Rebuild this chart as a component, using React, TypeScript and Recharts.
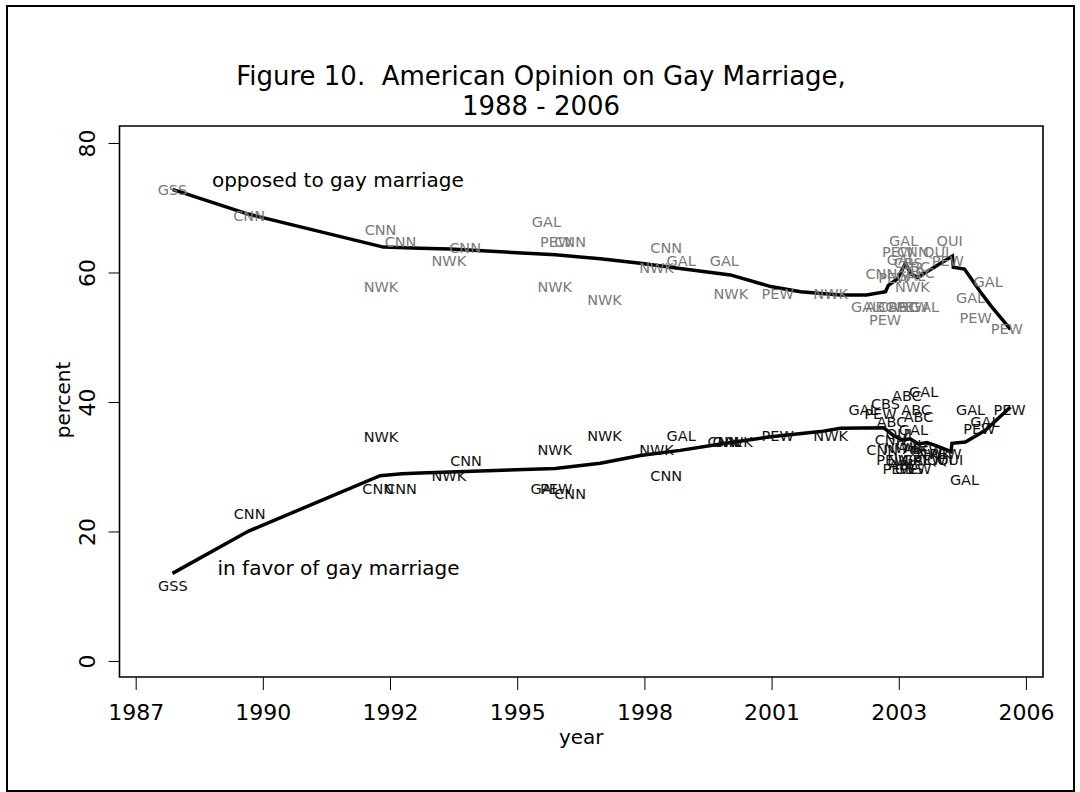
import { ComposedChart, Line, Scatter, XAxis, YAxis, ReferenceArea } from "recharts";

// x values are decimal years, y values are percent
const tickYears = [1987.379, 1990.116, 1992.854, 1995.592, 1998.33, 2001.068, 2003.806, 2006.543];
const tickLabels = ["1987", "1990", "1992", "1995", "1998", "2001", "2003", "2006"];
const percentTicks = [0, 20, 40, 60, 80];

// smoothed trend lines
const opposedTrend = [
  [1988.16, 72.9], [1989.79, 69.1], [1992.7, 64.0], [1993.49, 63.8], [1994.14, 63.7],
  [1996.4, 62.8], [1997.37, 62.2], [1998.23, 61.5], [1999.09, 60.7], [2000.17, 59.7],
  [2001.04, 57.9], [2001.68, 57.1], [2002.54, 56.6], [2003.1, 56.6], [2003.51, 57.1],
  [2003.57, 58.1], [2003.77, 59.1], [2003.94, 61.5], [2004.05, 59.9], [2004.2, 59.3],
  [2004.38, 60.1], [2004.56, 60.9], [2004.74, 61.7], [2004.95, 62.6], [2004.97, 60.9],
  [2005.21, 60.6], [2005.55, 57.1], [2005.77, 55.0], [2006.2, 51.3],
];

const favorTrend = [
  [1988.16, 13.6], [1989.79, 20.1], [1992.63, 28.7], [1993.1, 29.0], [1993.49, 29.1],
  [1996.4, 29.8], [1997.37, 30.6], [1998.23, 31.8], [1999.09, 32.6], [1999.96, 33.6],
  [2001.04, 34.7], [2002.11, 35.5], [2002.54, 36.0], [2003.47, 36.1], [2003.68, 34.9],
  [2003.87, 34.2], [2004.04, 34.4], [2004.22, 33.6], [2004.4, 33.8], [2004.61, 33.3],
  [2004.92, 32.4], [2004.94, 33.7], [2005.23, 33.9], [2005.66, 35.7], [2006.2, 39.3],
];

// individual polls: [source, year, percent]
const opposedPolls = [
  ["GSS", 1988.16, 72.8], ["CNN", 1989.81, 68.8], ["CNN", 1992.64, 66.7], ["CNN", 1993.07, 64.8],
  ["NWK", 1992.65, 57.8], ["NWK", 1994.11, 61.8], ["CNN", 1994.46, 63.9], ["GAL", 1996.21, 67.8],
  ["PEW", 1996.42, 64.8], ["CNN", 1996.72, 64.8], ["NWK", 1996.39, 57.8], ["NWK", 1997.46, 55.8],
  ["CNN", 1998.79, 63.8], ["NWK", 1998.58, 60.8], ["GAL", 1999.11, 61.8], ["GAL", 2000.04, 61.8],
  ["NWK", 2000.18, 56.8], ["PEW", 2001.19, 56.8], ["NWK", 2002.33, 56.8],
  ["GAL", 2003.9, 64.9], ["QUI", 2004.89, 64.9], ["PEW", 2003.78, 63.2], ["QUI", 2004.6, 63.2],
  ["CNN", 2004.1, 63.2], ["GAL", 2003.85, 62.0], ["CBS", 2004.0, 61.6], ["ABC", 2004.15, 61.0],
  ["PEW", 2004.85, 61.9], ["CNN", 2003.42, 59.8], ["PEW", 2003.7, 59.3], ["GAL", 2004.05, 59.6],
  ["ABC", 2004.25, 60.0], ["NWK", 2004.09, 57.8],
  ["GAL", 2003.08, 54.8], ["ABC", 2003.4, 54.8], ["CBS", 2003.66, 54.8], ["ABC", 2003.9, 54.8],
  ["PEW", 2004.09, 54.8], ["GAL", 2004.35, 54.8], ["PEW", 2003.5, 52.8],
  ["GAL", 2005.72, 58.6], ["GAL", 2005.34, 56.1], ["PEW", 2005.45, 53.1], ["PEW", 2006.12, 51.3],
];

const favorPolls = [
  ["GSS", 1988.17, 11.6], ["CNN", 1989.82, 22.8], ["NWK", 1992.65, 34.7], ["CNN", 1992.59, 26.7],
  ["CNN", 1993.08, 26.7], ["CNN", 1994.48, 30.9], ["NWK", 1994.11, 28.6], ["NWK", 1996.39, 32.7],
  ["NWK", 1997.46, 34.8], ["GAL", 1999.11, 34.8], ["NWK", 1998.58, 32.7], ["CNN", 1998.79, 28.7],
  ["GAL", 1996.18, 26.7], ["PEW", 1996.42, 26.7], ["CNN", 1996.72, 25.8], ["CNN", 2000.02, 33.9],
  ["GAL", 2000.1, 33.9], ["NWK", 2000.28, 33.9], ["PEW", 2001.19, 34.8], ["NWK", 2002.33, 34.8],
  ["GAL", 2003.03, 38.8], ["CBS", 2003.51, 39.8], ["ABC", 2003.97, 41.0], ["GAL", 2004.33, 41.6],
  ["PEW", 2003.4, 38.2], ["ABC", 2004.17, 38.8], ["ABC", 2003.64, 37.0], ["ABC", 2004.22, 37.8],
  ["GAL", 2004.11, 35.7], ["QUI", 2003.8, 35.2], ["CNN", 2003.62, 34.2], ["CNN", 2003.44, 32.6],
  ["NWK", 2003.85, 33.0], ["GAL", 2004.05, 33.5], ["ABC", 2004.2, 32.8], ["PEW", 2004.4, 32.5],
  ["PEW", 2004.8, 32.1], ["NWK", 2004.55, 32.1], ["PEW", 2003.66, 31.1], ["NWK", 2003.92, 31.1],
  ["GAL", 2004.18, 31.1], ["PEW", 2004.46, 31.1], ["QUI", 2004.68, 31.1], ["QUI", 2004.9, 31.1],
  ["PEW", 2003.79, 29.7], ["CBS", 2004.02, 29.8], ["ABC", 2003.9, 30.3], ["PEW", 2004.15, 29.7],
  ["GAL", 2005.21, 28.0], ["GAL", 2005.34, 38.8], ["PEW", 2005.53, 35.9], ["GAL", 2005.65, 37.0],
  ["PEW", 2006.18, 38.9],
];

const annotations = [
  ["opposed to gay marriage", 1989.01, 74.3],
  ["in favor of gay marriage", 1989.13, 14.4],
];

const FONT = "'DejaVu Sans', sans-serif";

const toPoints = (rows: any[]) => rows.map(([x, y]) => ({ x, y }));
const toLabels = (rows: any[]) => rows.map(([src, x, y]) => ({ x, y, src }));

const pollLabel = (color: string) => (props: any) => (
  <text
    x={props.cx}
    y={props.cy}
    textAnchor="middle"
    dominantBaseline="central"
    fill={color}
    fontSize={14.5}
    fontFamily={FONT}
  >
    {props.payload.src}
  </text>
);

const annotationLabel = (props: any) => (
  <text x={props.cx} y={props.cy} dominantBaseline="central" fill="#000" fontSize={20} fontFamily={FONT}>
    {props.payload.src}
  </text>
);

const XTick = ({ x, y, payload, index }: any) => (
  <text x={x} y={y + 20} textAnchor="middle" dominantBaseline="central" fontSize={22} fontFamily={FONT} fill="#000">
    {tickLabels[index] ?? payload.value}
  </text>
);

const YTick = ({ y, payload }: any) => (
  <text
    x={88}
    y={y}
    transform={`rotate(-90, 88, ${y})`}
    textAnchor="middle"
    dominantBaseline="central"
    fontSize={22}
    fontFamily={FONT}
    fill="#000"
  >
    {payload.value}
  </text>
);

export default function App() {
  const xDomain = [1987.02, 2006.9];
  const yDomain = [-2.4, 82.7];

  return (
    <div style={{ position: "absolute", left: 0, top: 0, width: 1080, height: 792, background: "#fff" }}>
      <div
        style={{
          position: "absolute",
          left: 6,
          top: 5,
          width: 1065,
          height: 783,
          border: "2px solid #000",
        }}
      />
      <div
        style={{
          position: "absolute",
          left: 0,
          width: 1082,
          top: 61,
          textAlign: "center",
          fontFamily: FONT,
          fontSize: 26,
          lineHeight: "30px",
          color: "#000",
        }}
      >
        <div>Figure 10.&nbsp; American Opinion on Gay Marriage,</div>
        <div>1988 - 2006</div>
      </div>
      <div style={{ position: "absolute", left: 0, top: 0 }}>
        <ComposedChart width={1080} height={792} margin={{ top: 126, right: 37, left: 0, bottom: 0 }}>
          <XAxis
            type="number"
            dataKey="x"
            domain={xDomain}
            ticks={tickYears}
            interval={0}
            allowDataOverflow
            height={115}
            tickSize={13}
            tickLine={{ stroke: "#000", strokeWidth: 1 }}
            axisLine={false}
            tick={<XTick />}
            label={{ value: "year", position: "insideTop", dy: 48, fontSize: 20, fontFamily: FONT, fill: "#000" }}
          />
          <YAxis
            type="number"
            dataKey="y"
            domain={yDomain}
            ticks={percentTicks}
            allowDataOverflow
            width={119.5}
            tickSize={11}
            tickLine={{ stroke: "#000", strokeWidth: 1 }}
            axisLine={false}
            tick={<YTick />}
          />
          <ReferenceArea
            x1={xDomain[0]}
            x2={xDomain[1]}
            y1={yDomain[0]}
            y2={yDomain[1]}
            fill="none"
            stroke="#000"
            strokeWidth={1.6}
          />
          <Scatter data={toLabels(opposedPolls)} dataKey="y" shape={pollLabel("#7a7a7a")} isAnimationActive={false} />
          <Scatter data={toLabels(favorPolls)} dataKey="y" shape={pollLabel("#111")} isAnimationActive={false} />
          <Line
            data={toPoints(opposedTrend)}
            dataKey="y"
            stroke="#000"
            strokeWidth={3.5}
            dot={false}
            activeDot={false}
            type="linear"
            isAnimationActive={false}
          />
          <Line
            data={toPoints(favorTrend)}
            dataKey="y"
            stroke="#000"
            strokeWidth={3.5}
            dot={false}
            activeDot={false}
            type="linear"
            isAnimationActive={false}
          />
          <Scatter data={toLabels(annotations)} dataKey="y" shape={annotationLabel} isAnimationActive={false} />
        </ComposedChart>
      </div>
      <svg width={1080} height={792} style={{ position: "absolute", left: 0, top: 0, pointerEvents: "none" }}>
        <text
          x={63}
          y={400}
          transform="rotate(-90, 63, 400)"
          textAnchor="middle"
          dominantBaseline="central"
          fontSize={20}
          fontFamily={FONT}
          fill="#000"
        >
          percent
        </text>
      </svg>
    </div>
  );
}
